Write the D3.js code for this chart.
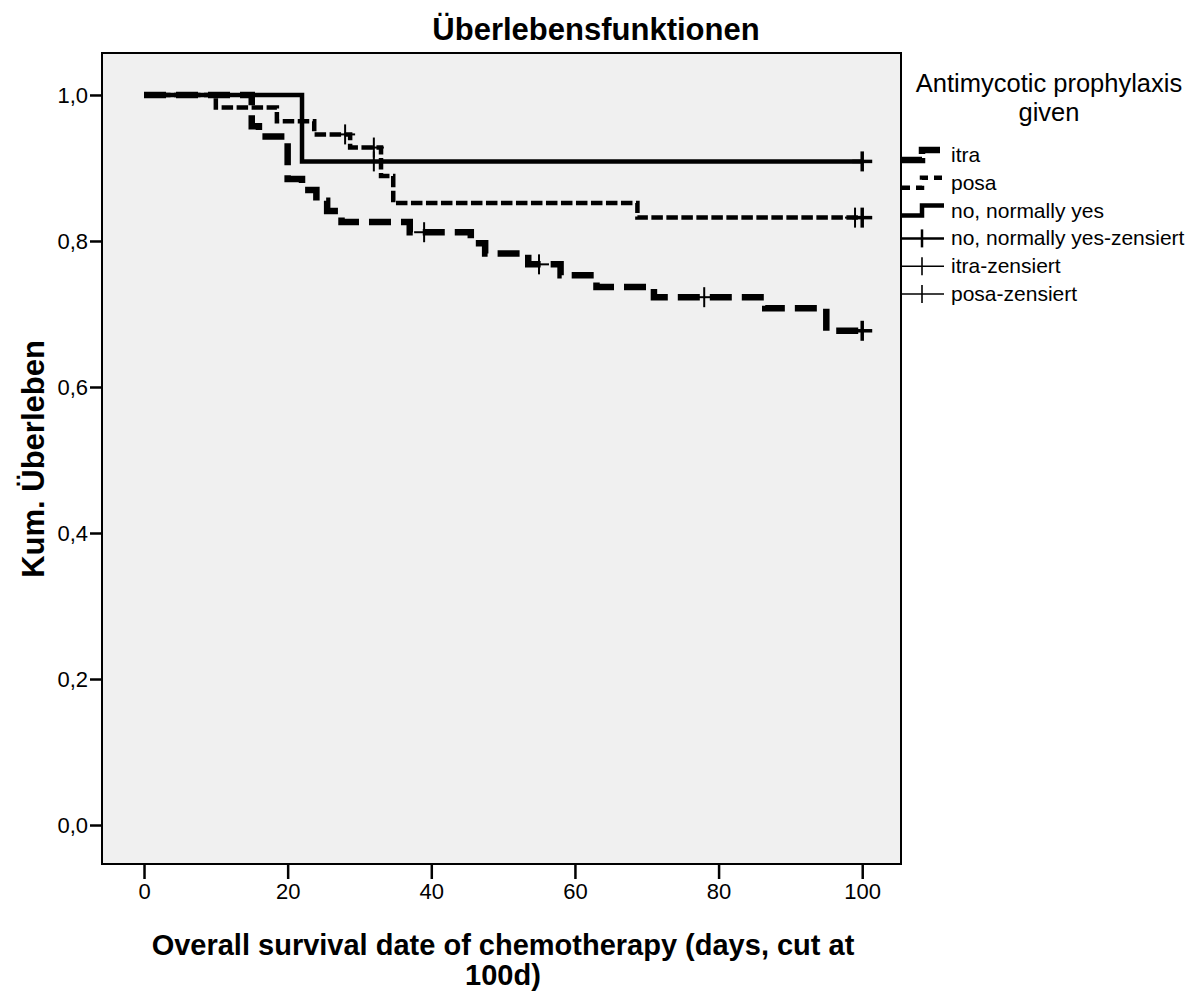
<!DOCTYPE html>
<html>
<head>
<meta charset="utf-8">
<script src="https://cdn.jsdelivr.net/npm/d3@7"></script>
<style>
  body { margin: 0; background: white; }
  svg text { font-family: "Liberation Sans", Arial, sans-serif; fill: black; }
</style>
</head>
<body>
<script>
// Kaplan-Meier steps
var itraTimes = [0, 15, 16, 20, 22, 24, 25.5, 27.5, 37, 45.5, 47.5, 53.5, 58, 63, 71, 86.5, 95, 100]
var itraSurv  = [1, 0.957, 0.943, 0.885, 0.870, 0.855, 0.841, 0.826, 0.812, 0.797, 0.783, 0.768, 0.753, 0.737, 0.723, 0.708, 0.677, 0.677]
var itraCensor = [39, 55, 78, 100]

var posaTimes = [0, 10, 18.5, 23.7, 28.7, 33, 34.7, 68.7, 100]
var posaSurv  = [1, 0.983, 0.964, 0.946, 0.928, 0.889, 0.852, 0.832, 0.832]
var posaCensor = [28, 32, 99, 100]

var noTimes = [0, 22, 100]
var noSurv  = [1, 0.909, 0.909]
var noCensor = [32, 100]

var xTicks = [0, 20, 40, 60, 80, 100]
var yTicks = [0, 0.2, 0.4, 0.6, 0.8, 1.0]

var legendItems = ["itra", "posa", "no, normally yes", "no, normally yes-zensiert", "itra-zensiert", "posa-zensiert"]

var W = 1203, H = 994
// note: "top" is taken by window.top, so prefix these
var plotLeft = 102, plotRight = 901, plotTop = 53, plotBottom = 864

var x = d3.scaleLinear().domain([-5.85, 105.4]).range([plotLeft, plotRight])
var y = d3.scaleLinear().domain([-0.0534, 1.0575]).range([plotBottom, plotTop])

var svg = d3.select("body").append("svg")
    .attr("width", W)
    .attr("height", H)

// plot background
svg.append("rect")
    .attr("x", plotLeft).attr("y", plotTop)
    .attr("width", plotRight - plotLeft).attr("height", plotBottom - plotTop)
    .attr("fill", "#f0f0f0")

// title
svg.append("text")
    .attr("x", 596).attr("y", 40)
    .attr("text-anchor", "middle")
    .style("font-size", "31px").style("font-weight", "bold")
    .text("Überlebensfunktionen")

// axes
var yAxis = d3.axisLeft(y)
    .tickValues(yTicks)
    .tickSize(12)
    .tickPadding(2)
    .tickFormat(d => d3.format(".1f")(d).replace(".", ","))

var gy = svg.append("g").attr("transform", "translate(" + plotLeft + ",0)").call(yAxis)
gy.select(".domain").remove()
gy.selectAll(".tick line").attr("stroke-width", 2.5)
gy.selectAll(".tick text").style("font-size", "22px").style("font-family", "Liberation Sans, Arial, sans-serif")

var xAxis = d3.axisBottom(x)
    .tickValues(xTicks)
    .tickSize(15)
    .tickPadding(4)

var gx = svg.append("g").attr("transform", "translate(0," + plotBottom + ")").call(xAxis)
gx.select(".domain").remove()
gx.selectAll(".tick line").attr("stroke-width", 2.5)
gx.selectAll(".tick text").style("font-size", "22px").style("font-family", "Liberation Sans, Arial, sans-serif")

// axis titles
svg.append("text")
    .attr("x", 503).attr("y", 955)
    .attr("text-anchor", "middle")
    .style("font-size", "29px").style("font-weight", "bold")
    .text("Overall survival date of chemotherapy (days, cut at")
svg.append("text")
    .attr("x", 503).attr("y", 985)
    .attr("text-anchor", "middle")
    .style("font-size", "29px").style("font-weight", "bold")
    .text("100d)")

svg.append("text")
    .attr("transform", "translate(44,459) rotate(-90)")
    .attr("text-anchor", "middle")
    .style("font-size", "31px").style("font-weight", "bold")
    .text("Kum. Überleben")

// curves
var stepLine = d3.line()
    .x(d => x(d[0]))
    .y(d => y(d[1]))
    .curve(d3.curveStepAfter)

function survAt(times, surv, t) {
    var s = surv[0]
    for (var i = 0; i < times.length; ++i) {
        if (times[i] <= t) s = surv[i]
    }
    return s
}

var groups = [
    { name: "no", times: noTimes, surv: noSurv, censor: noCensor, width: 4.5, dash: null },
    { name: "posa", times: posaTimes, surv: posaSurv, censor: posaCensor, width: 4.5, dash: "11.5,3.5" },
    { name: "itra", times: itraTimes, surv: itraSurv, censor: itraCensor, width: 6.5, dash: "22,10" }
]

var plot = svg.append("g")

groups.forEach(function(g) {
    plot.append("path")
        .datum(d3.zip(g.times, g.surv))
        .attr("d", stepLine)
        .attr("fill", "none")
        .attr("stroke", "black")
        .attr("stroke-width", g.width)
        .attr("stroke-dasharray", g.dash)
        .attr("stroke-linejoin", "miter")
        .attr("stroke-linecap", "butt")
})

groups.forEach(function(g) {
    var marks = plot.selectAll(".c-" + g.name)
        .data(g.censor)
        .enter()
        .append("g")
        .attr("class", "c-" + g.name)
        .attr("transform", t => "translate(" + x(t) + "," + y(survAt(g.times, g.surv, t)) + ")")
    marks.append("line")
        .attr("x1", -10).attr("x2", 10).attr("y1", 0).attr("y2", 0)
    marks.append("line")
        .attr("x1", 0).attr("x2", 0).attr("y1", -10).attr("y2", 10)
    marks.selectAll("line")
        .attr("stroke", "black")
        .attr("stroke-width", t => t >= 100 ? 3.5 : 2)
})

// plot border
svg.append("rect")
    .attr("x", plotLeft).attr("y", plotTop)
    .attr("width", plotRight - plotLeft).attr("height", plotBottom - plotTop)
    .attr("fill", "none")
    .attr("stroke", "black")
    .attr("stroke-width", 2)

// legend
var lg = svg.append("g")
lg.append("text")
    .attr("x", 1049).attr("y", 92)
    .attr("text-anchor", "middle")
    .style("font-size", "25.5px")
    .text("Antimycotic prophylaxis")
lg.append("text")
    .attr("x", 1049).attr("y", 121)
    .attr("text-anchor", "middle")
    .style("font-size", "25.5px")
    .text("given")

var legendY0 = 155, legendStep = 27.8
var symStyles = [
    { width: 6.5, dash: "22,4,0,0" },
    { width: 4.5, dash: "8,6" },
    { width: 4.5, dash: null }
]

legendItems.forEach(function(name, i) {
    var cy = legendY0 + i * legendStep
    if (i < 3) {
        var p = d3.path()
        p.moveTo(902, cy + 5)
        p.lineTo(922, cy + 5)
        p.lineTo(922, cy - 5)
        p.lineTo(944, cy - 5)
        lg.append("path")
            .attr("d", p.toString())
            .attr("fill", "none")
            .attr("stroke", "black")
            .attr("stroke-width", symStyles[i].width)
            .attr("stroke-dasharray", symStyles[i].dash)
    } else {
        var sw = i === 3 ? 2.5 : 1.6
        lg.append("line")
            .attr("x1", 902).attr("x2", 944).attr("y1", cy).attr("y2", cy)
            .attr("stroke", "black").attr("stroke-width", sw)
        lg.append("line")
            .attr("x1", 922).attr("x2", 922).attr("y1", cy - 9).attr("y2", cy + 9)
            .attr("stroke", "black").attr("stroke-width", sw)
    }
    lg.append("text")
        .attr("x", 951).attr("y", cy + 7)
        .style("font-size", "21px")
        .text(name)
})
</script>
</body>
</html>
